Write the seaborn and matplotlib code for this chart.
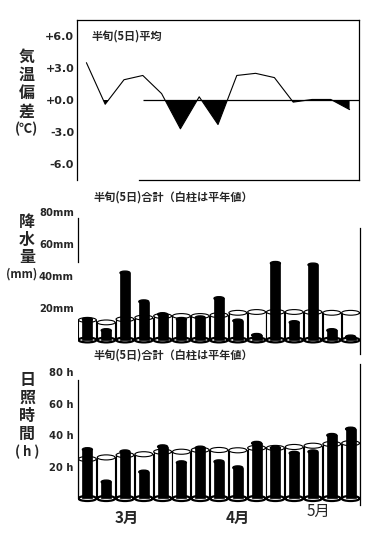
import matplotlib
matplotlib.use("Agg")
import matplotlib.pyplot as plt
from matplotlib.patches import Ellipse
import seaborn as sns
import pandas as pd
import numpy as np
import logging
logging.getLogger('matplotlib.font_manager').setLevel(logging.ERROR)

sns.set_style("white")
plt.rcParams['font.family'] = ['Noto Sans CJK JP', 'DejaVu Sans']

pentads = ["3/1", "3/2", "3/3", "3/4", "3/5", "3/6", "4/1", "4/2", "4/3",
           "4/4", "4/5", "4/6", "5/1", "5/2", "5/3"]
temp_dev = [3.5, -0.4, 1.9, 2.3, 0.6, -2.7, 0.3, -2.3, 2.3, 2.5, 2.1, -0.2, 0.05, 0.05, -0.9]
precip_obs = [13, 6, 42, 24, 16, 13, 14, 26, 12, 3, 48, 11, 47, 6, 2]
precip_norm = [12.5, 11, 13, 14, 15, 15, 15, 15.5, 17, 17.5, 17.5, 17.5, 17.5, 17, 17]
sun_obs = [31, 10.5, 29.6, 16.8, 32.8, 22.7, 32, 23.3, 19.5, 35, 32, 28.7, 29.6, 40, 44]
sun_norm = [25, 26, 27.5, 28, 29.6, 29.6, 30.7, 30.7, 30.5, 32, 32, 32.6, 33.4, 34.5, 35]
temp_ticks = [6, 3, 0, -3, -6]
temp_ticklabels = ["+6.0", "+3.0", "+0.0", "-3.0", "-6.0"]
precip_ticks = [20, 40, 60, 80]
precip_ticklabels = ["20mm", "40mm", "60mm", "80mm"]
sun_ticks = [20, 40, 60, 80]
sun_ticklabels = ["20 h", "40 h", "60 h", "80 h"]
months = ["3月", "4月", "5月"]
month_pos = [2.1, 8.0, 12.3]

W, H = 388, 533
fig = plt.figure(figsize=(W / 100, H / 100), dpi=100)

def rect(x0, x1, ytop, ybot):
    return [x0 / W, 1 - ybot / H, (x1 - x0) / W, (ybot - ytop) / H]

tick_font = dict(fontsize=8, fontweight='bold', family=['DejaVu Sans'])
tick_font_small = dict(fontsize=7.2, fontweight='bold', family=['DejaVu Sans'])

# ---------- Temperature deviation ----------
ax1 = fig.add_axes(rect(77, 359, 20, 180))
df_t = pd.DataFrame({"i": np.arange(len(pentads)), "dev": temp_dev})
sns.lineplot(data=df_t, x="i", y="dev", ax=ax1, color="black", linewidth=0.8)
xi = np.arange(len(pentads))
ax1.fill_between(xi, temp_dev, 0, where=np.array(temp_dev) < 0, interpolate=True,
                 color="black", linewidth=0)
ax1.hlines(0, 3.0, 14.5, color="black", linewidth=0.9)
ax1.set_xlim(-0.5, 14.5)
ax1.set_ylim(-7.5, 7.5)
ax1.set_yticks(temp_ticks)
ax1.set_yticklabels(temp_ticklabels, **tick_font)
ax1.set_xticks([])
ax1.set_xlabel("")
ax1.set_ylabel("")
ax1.tick_params(axis='y', length=0, pad=2)
for s in ax1.spines.values():
    s.set_color("black")
    s.set_linewidth(0.9)
ax1.spines['bottom'].set_bounds(2.8, 14.5)
ax1.text(0.05, 0.9, "半旬(5日)平均", transform=ax1.transAxes, fontsize=8,
         fontweight='bold', va='center', ha='left')


def cylinder_panel(ax, obs, norm, ell_h):
    df = pd.DataFrame({"p": pentads, "obs": obs, "norm": norm})
    sns.barplot(data=df, x="p", y="norm", ax=ax, color="white", width=0.95,
                edgecolor="black", linewidth=0.8, saturation=1)
    cyl = list(ax.patches)
    for p in cyl:
        cx = p.get_x() + p.get_width() / 2
        ax.add_patch(Ellipse((cx, 0), p.get_width(), ell_h, facecolor="white",
                             edgecolor="black", linewidth=1.6, zorder=2))
        ax.add_patch(Ellipse((cx, p.get_height()), p.get_width(), ell_h,
                             facecolor="white", edgecolor="black", linewidth=0.8, zorder=2))
    sns.barplot(data=df, x="p", y="obs", ax=ax, color="black", width=0.53,
                edgecolor="black", linewidth=0.5, saturation=1)
    for p in list(ax.patches):
        if p in cyl or isinstance(p, Ellipse):
            continue
        p.set_zorder(3)
        cx = p.get_x() + p.get_width() / 2
        ax.add_patch(Ellipse((cx, p.get_height()), p.get_width(), ell_h * 0.7,
                             facecolor="black", edgecolor="black", zorder=3))
    ax.set_xlim(-0.5, 14.5)
    ax.set_ylim(-4, 80)
    ax.set_xticks([])
    ax.set_xlabel("")
    ax.set_ylabel("")
    ax.tick_params(axis='y', length=0, pad=3)
    ax.spines['top'].set_visible(False)
    ax.spines['bottom'].set_visible(False)
    for s in ax.spines.values():
        s.set_color("black")
        s.set_linewidth(0.9)


# ---------- Precipitation ----------
ax2 = fig.add_axes(rect(78, 360, 212, 346.4))
cylinder_panel(ax2, precip_obs, precip_norm, 3.0)
ax2.set_yticks(precip_ticks)
ax2.set_yticklabels(precip_ticklabels, **tick_font_small)
ax2.spines['left'].set_bounds(49, 76)
ax2.spines['right'].set_bounds(-9, 70)
ax2.spines['right'].set_clip_on(False)
fig.text(93 / W, 1 - 197 / H, "半旬(5日)合計（白柱は平年値）", fontsize=8,
         fontweight='bold', va='center', ha='left')

# ---------- Sunshine ----------
ax3 = fig.add_axes(rect(78, 360, 372.1, 504.8))
cylinder_panel(ax3, sun_obs, sun_norm, 3.2)
ax3.set_yticks(sun_ticks)
ax3.set_yticklabels(sun_ticklabels, **tick_font_small)
ax3.spines['left'].set_bounds(0, 75)
ax3.spines['right'].set_bounds(-4, 85)
ax3.spines['right'].set_clip_on(False)
fig.text(93 / W, 1 - 355 / H, "半旬(5日)合計（白柱は平年値）", fontsize=8,
         fontweight='bold', va='center', ha='left')

for m, xp in zip(months, month_pos):
    is5 = (m == "5月")
    ax3.text(xp, -0.05 if is5 else -0.10, m, transform=ax3.get_xaxis_transform(),
             ha='center', va='center', fontsize=11,
             fontweight='normal' if is5 else 'bold')

# ---------- Vertical axis titles ----------
def vlabel(chars, ys, xs=None, small_size=9.5):
    for k, (c, y) in enumerate(zip(chars, ys)):
        small = len(c) > 1
        x = 27 if xs is None else xs[k]
        fig.text(x / W, 1 - y / H, c, ha='center', va='center',
                 fontsize=small_size if small else 11.5, fontweight='bold')

vlabel(["気", "温", "偏", "差", "(℃)"], [57, 75, 93, 112, 129])
vlabel(["降", "水", "量", "(mm)"], [222, 240, 257, 274], xs=[27, 27, 27, 22],
       small_size=8.5)
vlabel(["日", "照", "時", "間", "( h )"], [380, 398, 416, 434, 452])

fig.savefig("out.png", dpi=100)
